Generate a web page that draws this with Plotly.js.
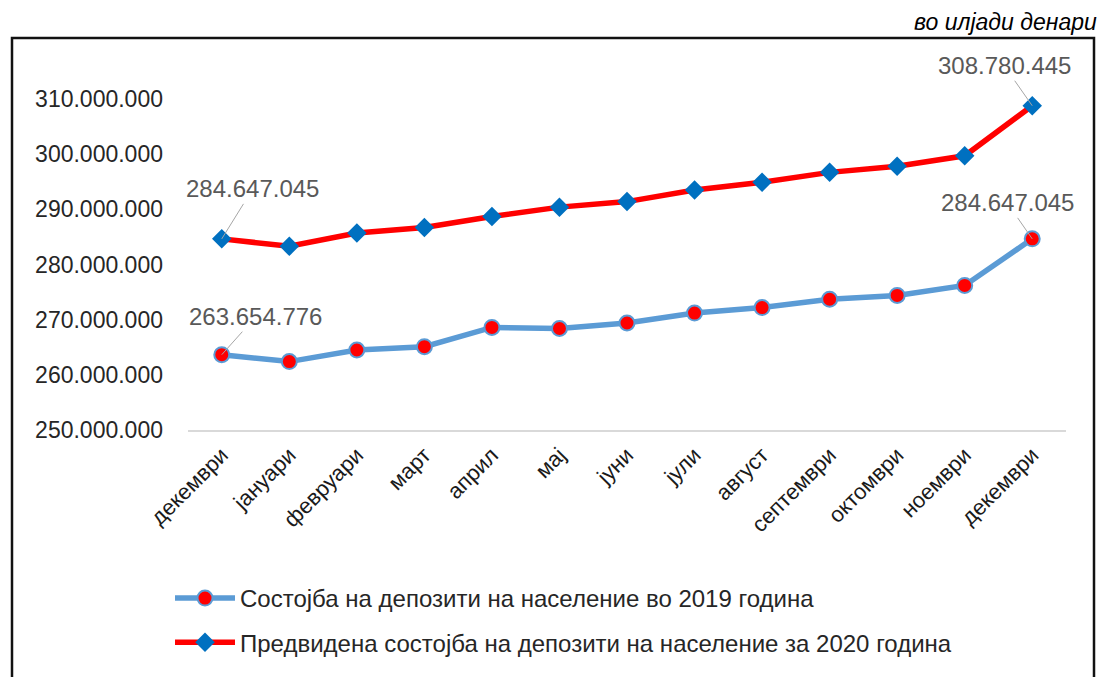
<!DOCTYPE html>
<html>
<head>
<meta charset="utf-8">
<script src="https://cdn.plot.ly/plotly-3.0.1.min.js"></script>
<style>
html,body{margin:0;padding:0;background:#fff;}
#chart{width:1102px;height:677px;}
</style>
</head>
<body>
<div id="chart"></div>
<script>
// Categories (months, Dec 2019 .. Dec 2020)
const months = ["декември","јануари","февруари","март","април","мај","јуни","јули","август","септември","октомври","ноември","декември"];
// Series values (in thousands of denars)
const deposits2019 = [263654776, 262400000, 264500000, 265100000, 268600000, 268400000, 269400000, 271200000, 272200000, 273700000, 274400000, 276200000, 284647045];
const forecast2020 = [284647045, 283300000, 285700000, 286700000, 288700000, 290400000, 291400000, 293500000, 294900000, 296700000, 297800000, 299700000, 308780445];
const seriesNames = ["Состојба на депозити на население во 2019 година", "Предвидена состојба на депозити на население за 2020 година"];
const yTicks = [250000000, 260000000, 270000000, 280000000, 290000000, 300000000, 310000000];
const unitNote = "во илјади денари";

const idx = months.map((_, i) => i);
const fmt = v => Math.round(v).toString().replace(/\B(?=(\d{3})+(?!\d))/g, ".");

const W = 1102, H = 677;
const px = x => x / W;
const py = y => 1 - y / H;

const traces = [
  {
    x: idx, y: deposits2019, name: seriesNames[0], type: "scatter", mode: "lines+markers",
    line: {color: "#5B9BD5", width: 5.5},
    marker: {symbol: "circle", size: 15, color: "#FF0000", line: {color: "#5B9BD5", width: 2}},
    legendgroup: "a", cliponaxis: false, hoverinfo: "none"
  },
  {
    x: idx, y: forecast2020, name: seriesNames[1], type: "scatter", mode: "lines+markers",
    line: {color: "#FF0000", width: 5.5},
    marker: {symbol: "diamond", size: 15, color: "#0070C0", line: {width: 0}},
    legendgroup: "b", cliponaxis: false, hoverinfo: "none"
  }
];

const labelFont = {family: "Liberation Sans, Arial, sans-serif", size: 24, color: "#595959"};
function dataLabel(i, arr, ax, ay) {
  return {
    x: i, y: arr[i], xref: "x", yref: "y", text: fmt(arr[i]),
    showarrow: true, arrowhead: 0, arrowwidth: 1, arrowcolor: "#A6A6A6",
    ax: ax, ay: ay, font: labelFont, standoff: 0
  };
}
const last = months.length - 1;

const layout = {
  width: W, height: H,
  margin: {l: 0, r: 0, t: 0, b: 0},
  paper_bgcolor: "#fff", plot_bgcolor: "rgba(0,0,0,0)",
  separators: ",.",
  showlegend: true,
  xaxis: {
    domain: [px(188), px(1066)],
    range: [-0.5, months.length - 0.5],
    tickmode: "array", tickvals: idx, ticktext: months,
    tickangle: -45, showgrid: false, zeroline: false,
    showline: true, linecolor: "#D9D9D9", linewidth: 1.5, ticks: "",
    ticklabelstandoff: 2,
    tickfont: {family: "Liberation Sans, Arial, sans-serif", size: 22, color: "#1a1a1a"},
    fixedrange: true
  },
  yaxis: {
    domain: [py(430), py(99)],
    range: [yTicks[0], yTicks[yTicks.length - 1]],
    tickmode: "array", tickvals: yTicks, tickformat: ",d",
    showgrid: false, zeroline: false, showline: false, ticks: "",
    ticklabelstandoff: 24,
    tickfont: {family: "Liberation Sans, Arial, sans-serif", size: 23, color: "#262626"},
    fixedrange: true
  },
  legend: {
    x: px(170), y: py(576), xanchor: "left", yanchor: "top",
    orientation: "v", traceorder: "grouped", tracegroupgap: 10,
    itemwidth: 60, bgcolor: "rgba(0,0,0,0)",
    font: {family: "Liberation Sans, Arial, sans-serif", size: 24, color: "#262626"}
  },
  annotations: [
    dataLabel(0, forecast2020, 31, -50),
    dataLabel(0, deposits2019, 34, -38),
    dataLabel(last, forecast2020, -28, -40),
    dataLabel(last, deposits2019, -25, -36),
    {
      xref: "paper", yref: "paper", x: px(1099), y: py(22), xanchor: "right", yanchor: "middle",
      text: "<i>" + unitNote + "</i>", showarrow: false,
      font: {family: "Liberation Sans, Arial, sans-serif", size: 23, color: "#000"}
    }
  ],
  shapes: [
    {type: "rect", xref: "paper", yref: "paper", x0: px(12), x1: px(1094), y0: py(700), y1: py(38),
     line: {color: "#111", width: 2.5}, fillcolor: "rgba(0,0,0,0)", layer: "below"}
  ]
};

Plotly.newPlot("chart", traces, layout, {displayModeBar: false, staticPlot: true});
</script>
</body>
</html>
